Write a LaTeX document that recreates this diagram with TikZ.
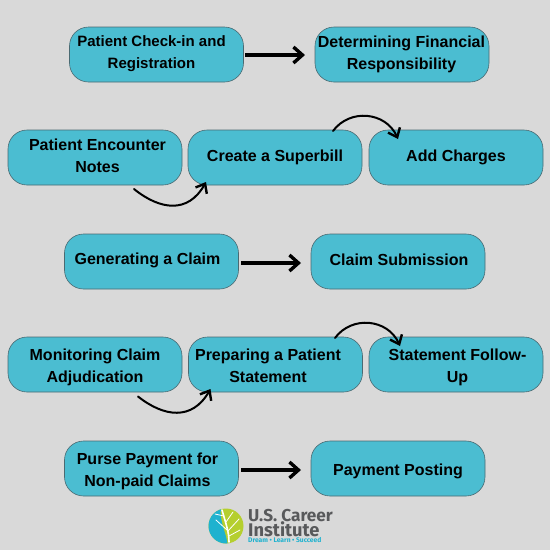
\documentclass[tikz,border=0pt]{standalone}
\usepackage{fontspec}
\setmainfont{Liberation Sans}
\newfontfamily\logofont{Fira Sans}
\usetikzlibrary{arrows.meta}
\definecolor{boxfill}{HTML}{4BBDD1}
\definecolor{boxline}{HTML}{4A6A72}
\definecolor{bgc}{HTML}{D9D9D9}
\definecolor{logoblue}{HTML}{1FB2CF}
\definecolor{logogreen}{HTML}{B5CF2E}
\definecolor{logogray}{HTML}{58595B}
\tikzset{x=1pt,y=-1pt,
 boxn/.style={draw=boxline,line width=.6pt,fill=boxfill,rounded corners=19pt,minimum width=174pt,minimum height=55pt,inner sep=0pt},
 lab/.style={font=\bfseries\fontsize{16}{22}\selectfont,align=center,text=black,inner sep=0pt},
 bigarrow/.style={line width=3.4pt,draw=black,-{Straight Barb[length=9pt,width=16pt,line width=3.4pt]}},
 curvearrow/.style={line width=2pt,draw=black,line cap=round,-{Straight Barb[length=8pt,width=13pt,line width=2.4pt]}}}
\begin{document}
\begin{tikzpicture}
\useasboundingbox (0,0) rectangle (550,550);
\fill[bgc] (0,0) rectangle (550,550);
% boxes
\node[boxn] (a1) at (156.5,54.5) {};
\node[boxn] (a2) at (402,54.5) {};
\node[boxn] (b1) at (95,157.5) {};
\node[boxn] (b2) at (275,157.5) {};
\node[boxn] (b3) at (456,157.5) {};
\node[boxn] (c1) at (151.5,261.5) {};
\node[boxn] (c2) at (398,261.5) {};
\node[boxn] (d1) at (95,364.5) {};
\node[boxn] (d2) at (275.5,364.5) {};
\node[boxn] (d3) at (456,364.5) {};
\node[boxn] (e1) at (151.5,468.5) {};
\node[boxn] (e2) at (398,468.5) {};
% labels
\node[lab,font=\bfseries\fontsize{15}{22}\selectfont] (ta1) at (151.5,54) {Patient Check-in and\\Registration};
\node[lab] (ta2) at (401.5,54) {Determining Financial\\Responsibility};
\node[lab] (tb1) at (97.5,156) {Patient Encounter\\Notes};
\node[lab] (tb2) at (275,157) {Create a Superbill};
\node[lab] (tb3) at (456,157) {Add Charges};
\node[lab] (tc1) at (147.5,260) {Generating a Claim};
\node[lab] (tc2) at (399,260) {Claim Submission};
\node[lab] (td1) at (95,367) {Monitoring Claim\\Adjudication};
\node[lab] (td2) at (268,366) {Preparing a Patient\\Statement};
\node[lab] (td3) at (457.5,367) {Statement Follow-\\Up};
\node[lab] (te1) at (147.5,471) {Purse Payment for\\Non-paid Claims};
\node[lab] (te2) at (398,471) {Payment Posting};
% arrows
\coordinate (sa) at (245,55); \coordinate (ea) at (305,55);
\draw[bigarrow] (sa) -- (ea);
\coordinate (sc) at (241,263); \coordinate (ec) at (301,263);
\draw[bigarrow] (sc) -- (ec);
\coordinate (se) at (241,470); \coordinate (ee) at (301,470);
\draw[bigarrow] (se) -- (ee);
\coordinate (s1) at (134,189); \coordinate (e1x) at (206,182);
\draw[curvearrow] (s1) .. controls (160,210) and (188,214) .. (e1x);
\coordinate (s2) at (333,131); \coordinate (e2x) at (398,139);
\draw[curvearrow] (s2) .. controls (350,108) and (386,112) .. (e2x);
\coordinate (s3) at (138,396.5) ; \coordinate (e3x) at (210.5,389);
\draw[curvearrow] (s3) .. controls (164,417) and (192,421) .. (e3x);
\coordinate (s4) at (335,338); \coordinate (e4x) at (400,346);
\draw[curvearrow] (s4) .. controls (352,315) and (388,319) .. (e4x);
% logo
\fill[logogreen] (226,526) circle (17.5pt);
\begin{scope}
\clip (226,526) circle (17.5pt);
\fill[logoblue] (208,508) -- (221,508) .. controls (219,520) and (226,532) .. (228,546) -- (208,546) -- cycle;
\end{scope}
\draw[white,line width=1.6pt,line cap=round] (229,542) .. controls (229,532) and (226,524) .. (222,510);
\draw[white,line width=.8pt,line cap=round] (227,530) -- (216,520);
\draw[white,line width=.8pt,line cap=round] (228,531) -- (239,519);
\draw[white,line width=.8pt,line cap=round] (226,522) -- (233,512);
\draw[white,line width=.8pt,line cap=round] (229,536) -- (240,530);
\draw[white,line width=.8pt,line cap=round] (224,516) -- (215,514);
\node[inner sep=0pt,anchor=west,text=logogray,font=\logofont\bfseries\fontsize{17.2}{17.2}\selectfont] (l1) at (248,515.5) {U.S. Career};
\node[inner sep=0pt,anchor=west,text=logogray,font=\logofont\bfseries\fontsize{18.3}{18.3}\selectfont] (l2) at (248,529.5) {Institute};
\node[inner sep=0pt,anchor=west,text=logoblue,font=\logofont\bfseries\fontsize{6.7}{7}\selectfont] (l3) at (248,540.5) {Dream • Learn • Succeed};
\end{tikzpicture}
\end{document}
